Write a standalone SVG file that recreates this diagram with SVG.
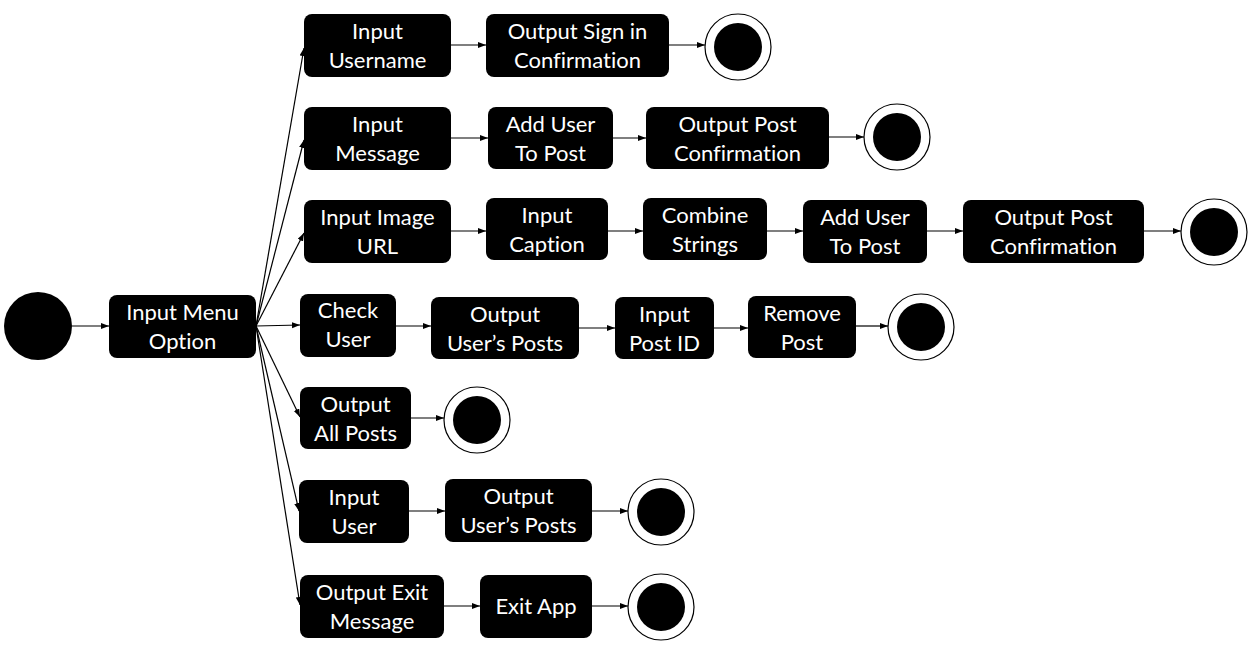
<svg xmlns="http://www.w3.org/2000/svg" width="1256" height="651" viewBox="0 0 1256 651">
<style>
.n rect{fill:#000;}
.n text{fill:#fff;font-family:Lato,"Liberation Sans",sans-serif;font-size:22px;text-anchor:middle;font-variant-ligatures:none;}
.c line{stroke:#000;stroke-width:1.2;fill:none;marker-end:url(#ah);}
.e .o{fill:#fff;stroke:#000;stroke-width:1.2;}
.e .i{fill:#000;}
</style>
<defs>
<marker id="ah" markerUnits="userSpaceOnUse" markerWidth="9" markerHeight="7" refX="8" refY="3" orient="auto">
<path d="M0,0 L8,3 L0,6 z" fill="#000"/>
</marker>
</defs>
<rect width="1256" height="651" fill="#fff"/>
<g id="connectors" class="c">
<line x1="72" y1="326" x2="109" y2="326"/>
<line x1="256" y1="326" x2="304" y2="48"/>
<line x1="256" y1="326" x2="304" y2="140"/>
<line x1="256" y1="326" x2="304" y2="233"/>
<line x1="256" y1="326" x2="300" y2="325"/>
<line x1="256" y1="326" x2="300" y2="417"/>
<line x1="256" y1="326" x2="299" y2="511"/>
<line x1="256" y1="326" x2="300" y2="605"/>
<line x1="451" y1="45" x2="486" y2="45"/>
<line x1="669" y1="45" x2="705" y2="45"/>
<line x1="451" y1="138" x2="488" y2="138"/>
<line x1="613" y1="138" x2="646" y2="138"/>
<line x1="829" y1="137" x2="864" y2="137"/>
<line x1="451" y1="231" x2="486" y2="231"/>
<line x1="608" y1="231" x2="643" y2="231"/>
<line x1="767" y1="231" x2="803" y2="231"/>
<line x1="927" y1="231" x2="963" y2="231"/>
<line x1="1144" y1="231" x2="1181" y2="231"/>
<line x1="396" y1="326" x2="431" y2="326"/>
<line x1="579" y1="328" x2="615" y2="328"/>
<line x1="714" y1="328" x2="748" y2="328"/>
<line x1="856" y1="326" x2="888" y2="326"/>
<line x1="411" y1="418" x2="444" y2="418"/>
<line x1="409" y1="511" x2="445" y2="511"/>
<line x1="592" y1="511" x2="628" y2="511"/>
<line x1="444" y1="606" x2="480" y2="606"/>
<line x1="592" y1="606" x2="628" y2="606"/>
</g>
<g id="start"><circle cx="38" cy="326" r="34" fill="#000"/></g>
<g id="n-menu" class="n"><rect x="109" y="295" width="147" height="63" rx="8"/><text x="182.5" y="320">Input Menu</text><text x="182.5" y="349">Option</text></g>
<g id="n-username" class="n"><rect x="304" y="14" width="147" height="63" rx="8"/><text x="377.5" y="39">Input</text><text x="377.5" y="68">Username</text></g>
<g id="n-signin" class="n"><rect x="486" y="14" width="183" height="63" rx="8"/><text x="577.5" y="39">Output Sign in</text><text x="577.5" y="68">Confirmation</text></g>
<g id="end1" class="e"><circle class="o" cx="738" cy="47" r="33"/><circle class="i" cx="738" cy="47" r="24"/></g>
<g id="n-message" class="n"><rect x="304" y="107" width="147" height="63" rx="8"/><text x="377.5" y="132">Input</text><text x="377.5" y="161">Message</text></g>
<g id="n-adduser1" class="n"><rect x="488" y="107" width="125" height="62" rx="8"/><text x="550.5" y="132">Add User</text><text x="550.5" y="161">To Post</text></g>
<g id="n-postconf1" class="n"><rect x="646" y="107" width="183" height="62" rx="8"/><text x="737.5" y="132">Output Post</text><text x="737.5" y="161">Confirmation</text></g>
<g id="end2" class="e"><circle class="o" cx="897" cy="137" r="33"/><circle class="i" cx="897" cy="137" r="24"/></g>
<g id="n-imageurl" class="n"><rect x="304" y="200" width="147" height="63" rx="8"/><text x="377.5" y="225">Input Image</text><text x="377.5" y="254">URL</text></g>
<g id="n-caption" class="n"><rect x="486" y="198" width="122" height="62" rx="8"/><text x="547" y="223">Input</text><text x="547" y="252">Caption</text></g>
<g id="n-combine" class="n"><rect x="643" y="198" width="124" height="62" rx="8"/><text x="705" y="223">Combine</text><text x="705" y="252">Strings</text></g>
<g id="n-adduser2" class="n"><rect x="803" y="200" width="124" height="63" rx="8"/><text x="865" y="225">Add User</text><text x="865" y="254">To Post</text></g>
<g id="n-postconf2" class="n"><rect x="963" y="200" width="181" height="63" rx="8"/><text x="1053.5" y="225">Output Post</text><text x="1053.5" y="254">Confirmation</text></g>
<g id="end3" class="e"><circle class="o" cx="1214" cy="232" r="33"/><circle class="i" cx="1214" cy="232" r="24"/></g>
<g id="n-checkuser" class="n"><rect x="300" y="294" width="96" height="63" rx="8"/><text x="348" y="318">Check</text><text x="348" y="347">User</text></g>
<g id="n-userposts1" class="n"><rect x="431" y="297" width="148" height="62" rx="8"/><text x="505" y="322">Output</text><text x="505" y="351">User’s Posts</text></g>
<g id="n-postid" class="n"><rect x="615" y="297" width="99" height="62" rx="8"/><text x="664.5" y="322">Input</text><text x="664.5" y="351">Post ID</text></g>
<g id="n-remove" class="n"><rect x="748" y="296" width="108" height="62" rx="8"/><text x="802" y="321">Remove</text><text x="802" y="350">Post</text></g>
<g id="end4" class="e"><circle class="o" cx="921" cy="327" r="33"/><circle class="i" cx="921" cy="327" r="24"/></g>
<g id="n-allposts" class="n"><rect x="300" y="387" width="111" height="62" rx="8"/><text x="355.5" y="412">Output</text><text x="355.5" y="441">All Posts</text></g>
<g id="end5" class="e"><circle class="o" cx="477" cy="420" r="33"/><circle class="i" cx="477" cy="420" r="24"/></g>
<g id="n-inputuser" class="n"><rect x="299" y="480" width="110" height="63" rx="8"/><text x="354" y="505">Input</text><text x="354" y="534">User</text></g>
<g id="n-userposts2" class="n"><rect x="445" y="479" width="147" height="63" rx="8"/><text x="518.5" y="504">Output</text><text x="518.5" y="533">User’s Posts</text></g>
<g id="end6" class="e"><circle class="o" cx="661" cy="512" r="33"/><circle class="i" cx="661" cy="512" r="24"/></g>
<g id="n-exitmsg" class="n"><rect x="300" y="575" width="144" height="63" rx="8"/><text x="372" y="600">Output Exit</text><text x="372" y="629">Message</text></g>
<g id="n-exitapp" class="n"><rect x="480" y="575" width="112" height="63" rx="8"/><text x="536" y="614">Exit App</text></g>
<g id="end7" class="e"><circle class="o" cx="661" cy="607" r="33"/><circle class="i" cx="661" cy="607" r="24"/></g>
</svg>
